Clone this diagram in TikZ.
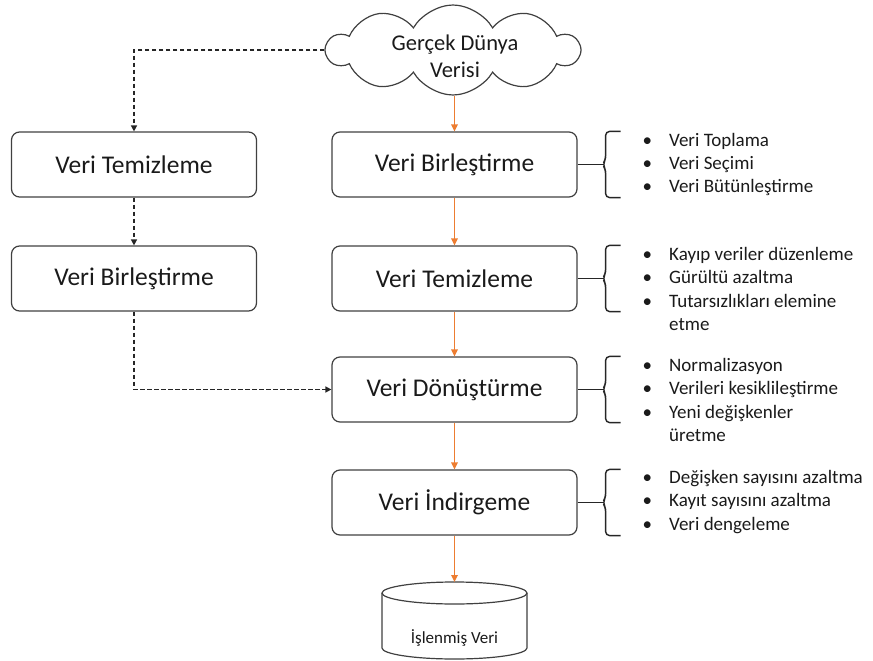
\documentclass[tikz,border=0pt]{standalone}
\usepackage{fontspec}
\setmainfont{Carlito}
\usetikzlibrary{arrows.meta,shapes.symbols}
\definecolor{flowor}{HTML}{ED7D31}
\definecolor{inkgray}{HTML}{404040}
\definecolor{txt}{HTML}{1A1A1A}

\begin{document}
\begin{tikzpicture}[x=1pt,y=-1pt,
  stage/.style={draw=inkgray, line width=1.2pt, rounded corners=8pt,
    minimum width=245pt, minimum height=65pt,
    font=\fontsize{25.5}{30}\selectfont, text=txt},
  flow/.style={draw=flowor, line width=1.6pt,
    -{Triangle[length=7pt,width=6.5pt]}},
  side/.style={draw=black!85, line width=1.8pt,
    dash pattern=on 4.5pt off 2.5pt,
    -{Triangle[length=6pt,width=6pt]}},
  bracket/.style={draw=black!85, line width=1.4pt},
  notes/.style={anchor=base west, inner sep=0pt, text=txt,
    font=\fontsize{19}{23.5}\selectfont},
]
\useasboundingbox (0,0) rectangle (873,661);

% source cloud
\node[cloud, draw=inkgray, line width=1.2pt, cloud puffs=10,
      cloud puff arc=120, aspect=2.7,
      minimum width=252pt, minimum height=90pt] (cl) at (453,50) {};
\node[font=\fontsize{22.5}{27}\selectfont, text=txt, align=center]
      (cltxt) at (455,56.5) {Gerçek Dünya\\Verisi};

% main pipeline
\node[stage] (r1) at (454.5,164.5) {Veri Birleştirme};
\node[stage] (r2) at (454.5,278.5) {Veri Temizleme};
\node[stage] (r3) at (454.5,389.5) {Veri Dönüştürme};
\node[stage] (r4) at (454.5,502.5) {Veri İndirgeme};

% alternative ordering
\node[stage] (l1) at (134,164.5) {Veri Temizleme};
\node[stage] (l2) at (134,278.5) {Veri Birleştirme};

% result store
\draw[inkgray, line width=1.2pt, fill=white]
  (382,593) -- (382,648) arc[start angle=180, end angle=0,
  x radius=72.5, y radius=11] -- (527,593);
\draw[inkgray, line width=1.2pt] (454.5,593) ellipse[x radius=72.5, y radius=11];
\coordinate (dbtop) at (454.5,582);
\node[font=\fontsize{17}{20}\selectfont, text=txt] (db) at (454.5,638) {İşlenmiş Veri};

% connectors
\draw[flow] (r1.north |- cl.south) -- (r1.north);
\draw[flow] (r1) -- (r2);
\draw[flow] (r2) -- (r3);
\draw[flow] (r3) -- (r4);
\draw[flow] (r4.south) -- (dbtop);

\draw[side] (cl.west) -| (l1.north);
\draw[side] (l1) -- (l2);
\draw[side] (l2.south) |- (r3.west);

% brackets with notes
\foreach \b in {r1,r2,r3,r4}{
  \draw[bracket] (\b.east) -- ([xshift=25pt]\b.east);
  \draw[bracket, rounded corners=4pt]
    ([xshift=43pt]\b.north east) -- ([xshift=28pt]\b.north east)
    -- ([xshift=28pt,yshift=5pt]\b.east) -- ([xshift=25pt]\b.east)
    -- ([xshift=28pt,yshift=-5pt]\b.east)
    -- ([xshift=28pt]\b.south east) -- ([xshift=43pt]\b.south east);
}

\node[notes] (n1) at (642.5,146) {\begin{tabular}[t]{@{}l@{}l@{}}
  \makebox[26.5pt][l]{\textbullet} & Veri Toplama\\
  \makebox[26.5pt][l]{\textbullet} & Veri Seçimi\\
  \makebox[26.5pt][l]{\textbullet} & Veri Bütünleştirme
\end{tabular}};
\node[notes] (n2) at (642.5,260) {\begin{tabular}[t]{@{}l@{}l@{}}
  \makebox[26.5pt][l]{\textbullet} & Kayıp veriler düzenleme\\
  \makebox[26.5pt][l]{\textbullet} & Gürültü azaltma\\
  \makebox[26.5pt][l]{\textbullet} & Tutarsızlıkları elemine\\
  & etme
\end{tabular}};
\node[notes] (n3) at (642.5,371) {\begin{tabular}[t]{@{}l@{}l@{}}
  \makebox[26.5pt][l]{\textbullet} & Normalizasyon\\
  \makebox[26.5pt][l]{\textbullet} & Verileri kesiklileştirme\\
  \makebox[26.5pt][l]{\textbullet} & Yeni değişkenler\\
  & üretme
\end{tabular}};
\node[notes] (n4) at (642.5,483) {\begin{tabular}[t]{@{}l@{}l@{}}
  \makebox[26.5pt][l]{\textbullet} & Değişken sayısını azaltma\\
  \makebox[26.5pt][l]{\textbullet} & Kayıt sayısını azaltma\\
  \makebox[26.5pt][l]{\textbullet} & Veri dengeleme
\end{tabular}};
\end{tikzpicture}
\end{document}
